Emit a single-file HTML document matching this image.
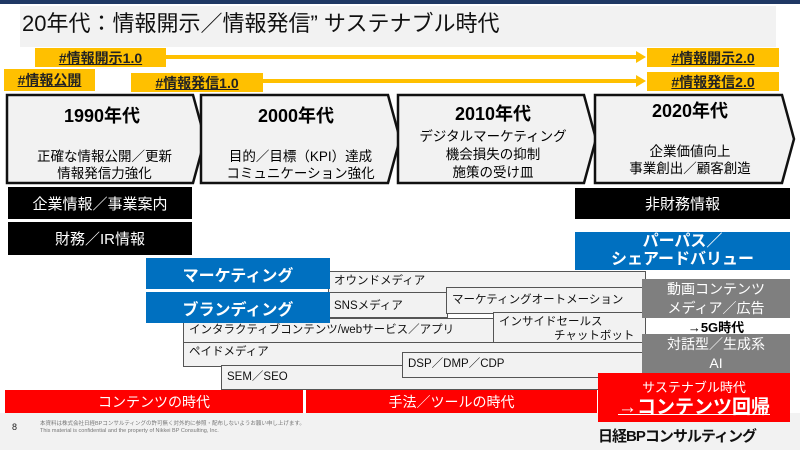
<!DOCTYPE html>
<html><head><meta charset="utf-8"><style>
*{margin:0;padding:0;box-sizing:border-box}
body{width:800px;height:450px;position:relative;overflow:hidden;background:#fff;font-family:"Liberation Sans","Noto Sans CJK JP",sans-serif}
.a{position:absolute}
.c{display:flex;align-items:center;justify-content:center;text-align:center}
.y{background:#ffc000;font-weight:bold;font-size:14px;color:#222;text-decoration:underline;display:flex;align-items:center;justify-content:center}
.blk{background:#000;color:#fff;font-size:15px}
.blu{background:#0070c0;color:#fff;font-weight:bold;font-size:16px}
.g{background:#f2f2f2;border:1px solid #555;font-size:11.5px;color:#111;padding-left:5px;line-height:18px}
.dg{background:#7f7f7f;color:#fff;font-size:14px;line-height:19px}
.red{background:#ff0000;color:#fff;font-size:14px}
</style></head><body>
<div class="a" style="left:0;top:0;width:800px;height:4px;background:#1f3864"></div>
<div class="a" style="left:20px;top:6px;width:756px;height:41px;background:#f2f2f2"></div>
<div class="a" style="left:22px;top:9px;font-size:22px;color:#111;line-height:30px">20年代：情報開示／情報発信” サステナブル時代</div>
<div class="a" style="left:0;top:413px;width:800px;height:37px;background:#f2f2f2"></div>

<svg class="a" style="left:0;top:0" width="800" height="450">
<line x1="166" y1="57" x2="640" y2="57" stroke="#ffc000" stroke-width="4"/>
<polygon points="636,51 646,57 636,63" fill="#ffc000"/>
<line x1="263" y1="81" x2="640" y2="81" stroke="#ffc000" stroke-width="4"/>
<polygon points="636,75 646,81 636,87" fill="#ffc000"/>
<g fill="#f2f2f2" stroke="#111" stroke-width="2.5">
<polygon points="7,95 193,95 205,139 193,183 7,183"/>
<polygon points="201,95 388,95 400,139 388,183 201,183"/>
<polygon points="398,95 584,95 596,139 584,183 398,183"/>
<polygon points="595,95 782,95 794,139 782,183 595,183"/>
</g>
</svg>
<div class="a y" style="left:35px;top:48px;width:131px;height:19px">#情報開示1.0</div>
<div class="a y" style="left:647px;top:48px;width:132px;height:19px">#情報開示2.0</div>
<div class="a y" style="left:4px;top:69px;width:91px;height:22px">#情報公開</div>
<div class="a y" style="left:131px;top:73px;width:132px;height:19px">#情報発信1.0</div>
<div class="a y" style="left:647px;top:72px;width:132px;height:19px">#情報発信2.0</div>

<div class="a c" style="left:7px;top:103px;width:190px;height:24px;font-weight:bold;font-size:18px">1990年代</div>
<div class="a c" style="left:7px;top:148px;width:195px;font-size:13.5px;line-height:17px">正確な情報公開／更新<br>情報発信力強化</div>
<div class="a c" style="left:201px;top:103px;width:190px;height:24px;font-weight:bold;font-size:18px">2000年代</div>
<div class="a c" style="left:203px;top:148px;width:195px;font-size:13.5px;line-height:17px">目的／目標（KPI）達成<br>コミュニケーション強化</div>
<div class="a c" style="left:398px;top:101px;width:190px;height:24px;font-weight:bold;font-size:18px">2010年代</div>
<div class="a c" style="left:398px;top:128px;width:190px;font-size:13.5px;line-height:18px">デジタルマーケティング<br>機会損失の抑制<br>施策の受け皿</div>
<div class="a c" style="left:595px;top:98px;width:190px;height:24px;font-weight:bold;font-size:18px">2020年代</div>
<div class="a c" style="left:595px;top:143px;width:190px;font-size:13.5px;line-height:17px">企業価値向上<br>事業創出／顧客創造</div>

<div class="a c blk" style="left:8px;top:187px;width:184px;height:32px">企業情報／事業案内</div>
<div class="a c blk" style="left:8px;top:222px;width:184px;height:33px">財務／IR情報</div>
<div class="a c blk" style="left:575px;top:188px;width:215px;height:31px">非財務情報</div>
<div class="a c blu" style="left:575px;top:232px;width:215px;height:38px;line-height:18px">パーパス／<br>シェアードバリュー</div>

<div class="a g" style="left:328px;top:271px;width:318px;height:22px">オウンドメディア</div>
<div class="a g" style="left:328px;top:292px;width:120px;height:26px;line-height:26px">SNSメディア</div>
<div class="a g" style="left:446px;top:287px;width:200px;height:27px;line-height:24px">マーケティングオートメーション</div>
<div class="a g" style="left:183px;top:318px;width:312px;height:25px;line-height:23px">インタラクティブコンテンツ/webサービス／アプリ</div>
<div class="a g" style="left:493px;top:312px;width:153px;height:34px;line-height:14px;padding-top:2px">インサイドセールス<br><span style="padding-left:55px">チャットボット</span></div>
<div class="a g" style="left:183px;top:342px;width:463px;height:25px">ペイドメディア</div>
<div class="a g" style="left:221px;top:365px;width:380px;height:25px;line-height:23px">SEM／SEO</div>
<div class="a g" style="left:402px;top:352px;width:244px;height:26px;line-height:22px">DSP／DMP／CDP</div>

<div class="a c blu" style="left:146px;top:258px;width:184px;height:31px">マーケティング</div>
<div class="a c blu" style="left:146px;top:292px;width:184px;height:31px">ブランディング</div>

<div class="a c dg" style="left:642px;top:279px;width:148px;height:39px">動画コンテンツ<br>メディア／広告</div>
<div class="a c" style="left:642px;top:318px;width:148px;height:16px;font-weight:bold;font-size:13px">→5G時代</div>
<div class="a c dg" style="left:642px;top:334px;width:148px;height:39px">対話型／生成系<br>AI</div>

<div class="a c red" style="left:5px;top:390px;width:298px;height:23px">コンテンツの時代</div>
<div class="a c red" style="left:306px;top:390px;width:291px;height:23px">手法／ツールの時代</div>
<div class="a c red" style="left:598px;top:373px;width:192px;height:49px;flex-direction:column;line-height:20px"><span style="font-size:13px">サステナブル時代</span><span style="font-size:19px;font-weight:bold;text-decoration:underline">→コンテンツ回帰</span></div>

<div class="a" style="left:12px;top:422px;font-size:9px;color:#222">8</div>
<div class="a" style="left:40px;top:421px;font-size:5.5px;color:#777;line-height:7px">本資料は株式会社日経BPコンサルティングの許可無く対外的に参照・配布しないようお願い申し上げます。<br>This material is confidential and the property of Nikkei BP Consulting, Inc.</div>
<div class="a" style="left:598px;top:425px;font-size:15px;font-weight:bold;color:#111;letter-spacing:-1px">日経BPコンサルティング</div>
</body></html>
